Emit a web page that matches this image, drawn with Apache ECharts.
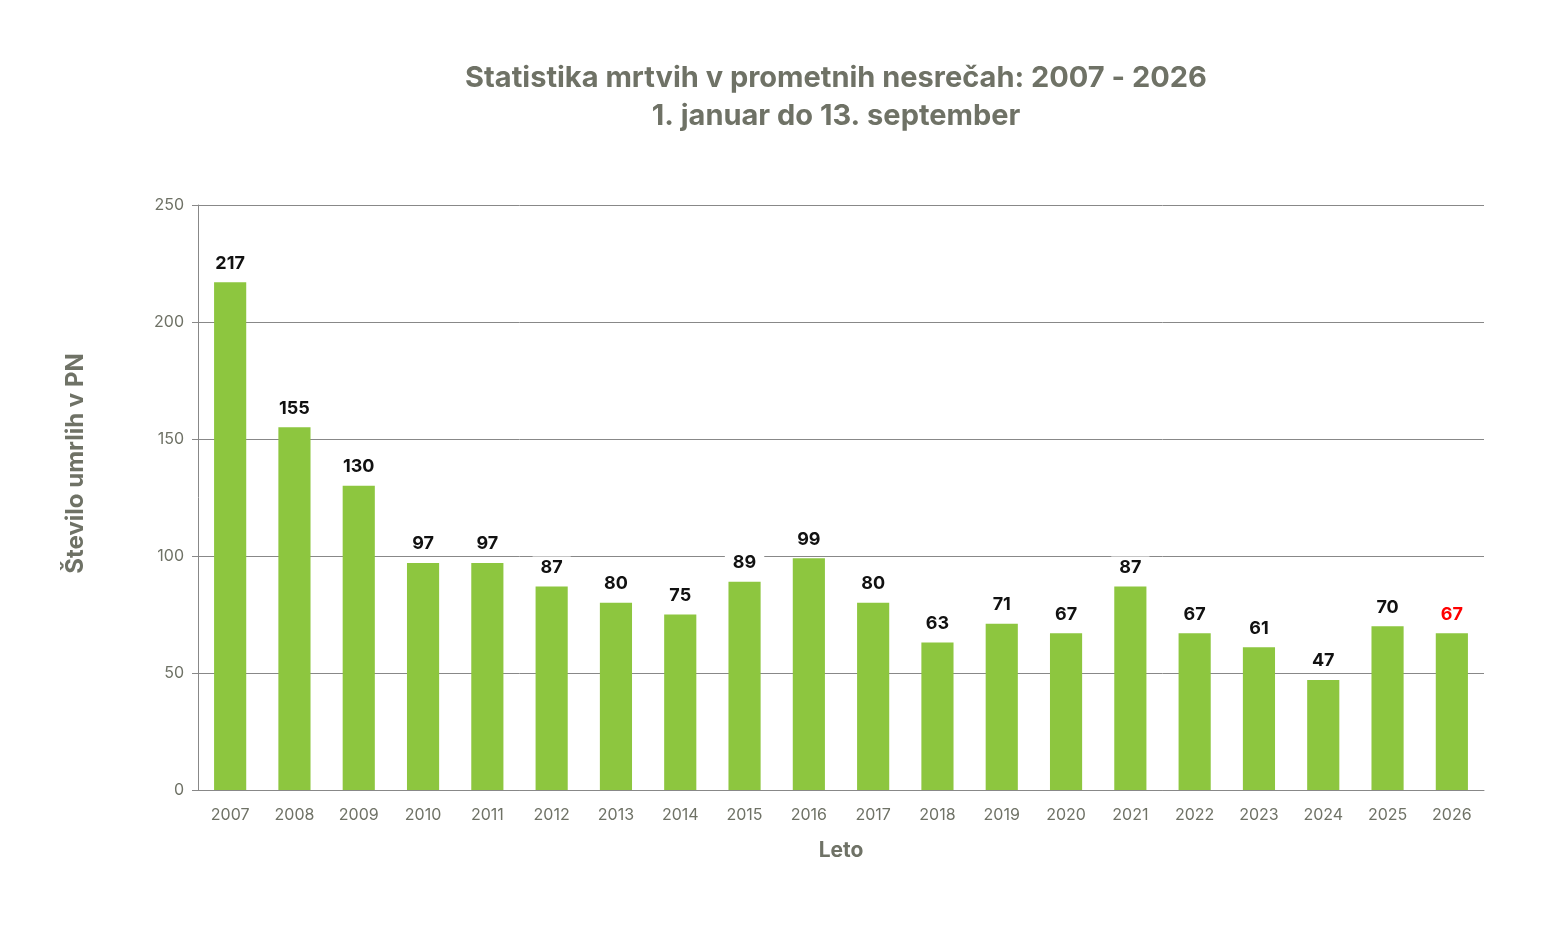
<!DOCTYPE html>
<html>
<head>
<meta charset="UTF-8">
<title>Statistika mrtvih v prometnih nesrečah</title>
<script type="text/javascript" src="https://cdn.jsdelivr.net/npm/echarts@6/dist/echarts.min.js"></script>
<style>
	html, body { margin: 0; padding: 0; background: #fff; }
	#main { width: 1551px; height: 944px; }
</style>
</head>
<body>
	<div id="main"></div>
	<script type="text/javascript">
		// podatki
		var years = ['2007','2008','2009','2010','2011','2012','2013','2014','2015','2016',
			'2017','2018','2019','2020','2021','2022','2023','2024','2025','2026'];
		var deaths = [217, 155, 130, 97, 97, 87, 80, 75, 89, 99, 80, 63, 71, 67, 87, 67, 61, 47, 70, 67];
		var highlightYear = '2026';

		var myChart = echarts.init(document.getElementById('main'));

		var barData = [];
		for (var i = 0; i < deaths.length; i++) {
			var item = { value: deaths[i] };
			if (years[i] === highlightYear) {
				item.label = { color: '#ff0000' };
			}
			barData.push(item);
		}

		var option = {
			backgroundColor: '#ffffff',
			textStyle: { fontFamily: 'Inter' },
			title: {
				text: 'Statistika mrtvih v prometnih nesrečah: 2007 - 2026\n1. januar do 13. september',
				left: 831,
				top: 54,
				textAlign: 'center',
				textStyle: {
					color: '#6f7266',
					fontSize: 29,
					fontWeight: 'bold',
					lineHeight: 38,
					fontFamily: 'Inter'
				}
			},
			grid: {
				left: 198,
				right: 67,
				top: 205,
				bottom: 154,
				containLabel: false
			},
			xAxis: {
				type: 'category',
				data: years,
				name: 'Leto',
				nameLocation: 'middle',
				nameGap: 50,
				nameTextStyle: { color: '#6f7266', fontSize: 21, fontWeight: 'bold' },
				axisLine: { lineStyle: { color: '#888888', width: 1 } },
				axisTick: { show: false },
				axisLabel: { color: '#6f7266', fontSize: 16, margin: 17 }
			},
			yAxis: {
				type: 'value',
				min: 0,
				max: 250,
				interval: 50,
				name: 'Število umrlih v PN',
				nameLocation: 'middle',
				nameGap: 110,
				nameTextStyle: { color: '#6f7266', fontSize: 24, fontWeight: 'bold', padding: [0, 0, 0, 68] },
				axisLine: { show: true, lineStyle: { color: '#888888', width: 1 } },
				axisTick: { show: true, length: 6, lineStyle: { color: '#888888' } },
				axisLabel: { color: '#6f7266', fontSize: 16, margin: 14 },
				splitLine: { lineStyle: { color: '#888888', width: 1 } }
			},
			series: [{
				type: 'bar',
				data: barData,
				barWidth: '50%',
				itemStyle: { color: '#8dc63f' },
				label: {
					show: true,
					position: 'top',
					distance: 8,
					color: '#111111',
					fontSize: 18,
					fontWeight: 'bold',
					backgroundColor: '#ffffff',
					padding: [2, 8, 2, 8]
				}
			}]
		};

		myChart.setOption(option);
		window.onresize = myChart.resize;
	</script>
</body>
</html>
